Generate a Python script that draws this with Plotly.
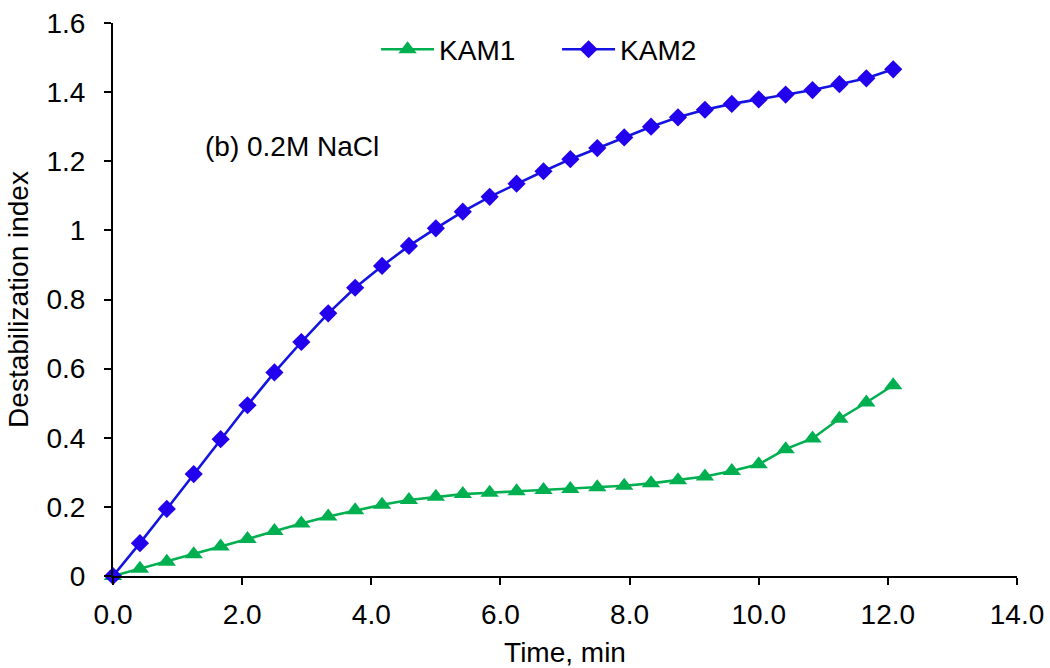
import plotly.graph_objects as go

# Sampling times (min), one reading every 25 s
time_min = [0.0, 0.417, 0.833, 1.25, 1.667, 2.083, 2.5, 2.917, 3.333, 3.75,
            4.167, 4.583, 5.0, 5.417, 5.833, 6.25, 6.667, 7.083, 7.5, 7.917,
            8.333, 8.75, 9.167, 9.583, 10.0, 10.417, 10.833, 11.25, 11.667, 12.083]

kam1 = [0.0, 0.021, 0.041, 0.063, 0.085, 0.107, 0.130, 0.152, 0.172, 0.190,
        0.206, 0.220, 0.229, 0.237, 0.241, 0.245, 0.249, 0.252, 0.257, 0.261,
        0.268, 0.277, 0.288, 0.304, 0.323, 0.367, 0.398, 0.455, 0.502, 0.552]

kam2 = [0.0, 0.095, 0.194, 0.295, 0.396, 0.494, 0.589, 0.677, 0.760, 0.834,
        0.897, 0.955, 1.006, 1.054, 1.097, 1.135, 1.171, 1.206, 1.238, 1.269,
        1.300, 1.327, 1.349, 1.366, 1.379, 1.393, 1.406, 1.423, 1.440, 1.466]

x_ticks = [0, 2, 4, 6, 8, 10, 12, 14]
y_ticks = [0, 0.2, 0.4, 0.6, 0.8, 1.0, 1.2, 1.4, 1.6]

FONT = "Liberation Sans, Arial, sans-serif"
FS = 28
GREEN = "#00B050"
BLUE_LINE = "#1414E0"
BLUE_MARK = "#2200EE"

fig = go.Figure()
fig.add_trace(go.Scatter(
    x=time_min, y=kam1, name="KAM1", mode="lines+markers",
    line=dict(color=GREEN, width=2.6),
    marker=dict(symbol="triangle-up", size=16, color=GREEN),
    cliponaxis=False,
))
fig.add_trace(go.Scatter(
    x=time_min, y=kam2, name="KAM2", mode="lines+markers",
    line=dict(color=BLUE_LINE, width=2.6),
    marker=dict(symbol="diamond", size=14, color=BLUE_MARK),
    cliponaxis=False,
))

axis_common = dict(
    showline=True, linecolor="black", linewidth=2,
    ticks="outside", ticklen=7, tickwidth=2, tickcolor="black",
    showgrid=False, zeroline=False, automargin=False,
    tickfont=dict(family=FONT, size=FS, color="black"),
)

fig.update_xaxes(
    range=[0, 14], tickvals=x_ticks, tickformat=".1f", ticklabelstandoff=5,
    title=dict(text="Time, min", font=dict(family=FONT, size=FS, color="black"), standoff=14),
    **axis_common,
)
fig.update_yaxes(
    range=[0, 1.6], tickvals=y_ticks, ticklabelstandoff=13,
    title=dict(text="Destabilization index", font=dict(family=FONT, size=FS, color="black"), standoff=10),
    **axis_common,
)

fig.add_annotation(
    text="(b) 0.2M NaCl", xref="paper", yref="paper",
    x=0.0996, y=0.777, xanchor="left", yanchor="middle",
    showarrow=False, font=dict(family=FONT, size=FS, color="black"),
)

fig.update_layout(
    width=1050, height=668,
    margin=dict(l=113, r=33, t=23, b=92),
    paper_bgcolor="white", plot_bgcolor="white",
    showlegend=True,
    legend=dict(
        orientation="h", x=0.291, y=0.952, xanchor="left", yanchor="middle",
        font=dict(family=FONT, size=FS, color="black"),
        itemwidth=53, entrywidth=113, bgcolor="rgba(0,0,0,0)",
    ),
)

fig.write_html("out.html", config={"displayModeBar": False})
